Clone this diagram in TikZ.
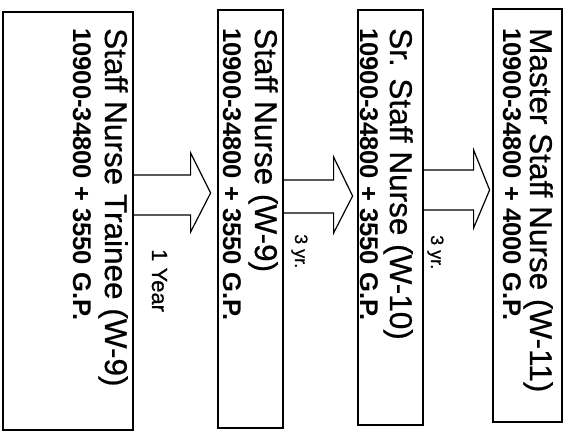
\documentclass[tikz,border=0pt]{standalone}
\usepackage{fontspec}
\setmainfont{Liberation Sans}
\newfontfamily\heavyfont[FakeBold=0.6]{Liberation Sans}
\begin{document}
\begin{tikzpicture}[x=1pt,y=-1pt,
  box/.style={draw, line width=1.2pt, inner sep=0pt},
  ttl/.style={rotate=-90, anchor=base west, inner sep=0pt, font=\heavyfont\fontsize{31.5}{36}\selectfont},
  amt/.style={rotate=-90, anchor=base west, inner sep=0pt, font=\fontsize{25.6}{30}\selectfont\bfseries},
  lbl/.style={rotate=-90, anchor=base west, inner sep=0pt},
  blockarrow/.style={draw, line width=1.2pt, line join=miter}]
\useasboundingbox (0,0) rectangle (567,434);
% boxes
\node[box, minimum width=130pt, minimum height=418pt] (b1) at (68,221) {};
\node[box, minimum width=65pt, minimum height=418pt] (b2) at (250.5,219) {};
\node[box, minimum width=65pt, minimum height=415pt] (b3) at (390.5,217.5) {};
\node[box, minimum width=69pt, minimum height=413pt] (b4) at (527.5,215.5) {};
% texts
\node[ttl] (t1) at (105,28) {Staff Nurse Trainee (W-9)};
\node[amt] (a1) at (73,28) {10900-34800 + 3550 G.P.};
\node[ttl] (t2) at (255,28) {Staff Nurse (W-9)};
\node[amt] (a2) at (223,28) {10900-34800 + 3550 G.P.};
\node[ttl] (t3) at (390,28) {Sr. Staff Nurse (W-10)};
\node[amt] (a3) at (360,28) {10900-34800 + 3550 G.P.};
\node[ttl] (t4) at (530,28) {Master Staff Nurse (W-11)};
\node[amt] (a4) at (503,28) {10900-34800 + 4000 G.P.};
% labels
\node[lbl, font=\heavyfont\fontsize{22}{25}\selectfont] (l1) at (152,249) {1 Year};
\node[lbl, font=\heavyfont\fontsize{18}{21}\selectfont] (l2) at (295,234) {3 yr.};
\node[lbl, font=\heavyfont\fontsize{18}{21}\selectfont] (l3) at (431,235) {3 yr.};
% block arrows
\draw[blockarrow] (b1.east) ++(0,-46) -- ++(57,0) -- ++(0,-22) -- ++(20,40) -- ++(-20,39) -- ++(0,-17) -- ++(-57,0);
\draw[blockarrow] (b2.east) ++(0,-39) -- ++(50,0) -- ++(0,-23) -- ++(19,39) -- ++(-19,37) -- ++(0,-20) -- ++(-50,0);
\draw[blockarrow] (b3.east) ++(0,-47.5) -- ++(50,0) -- ++(0,-20) -- ++(16,40) -- ++(-16,38) -- ++(0,-18) -- ++(-50,0);
\end{tikzpicture}
\end{document}
